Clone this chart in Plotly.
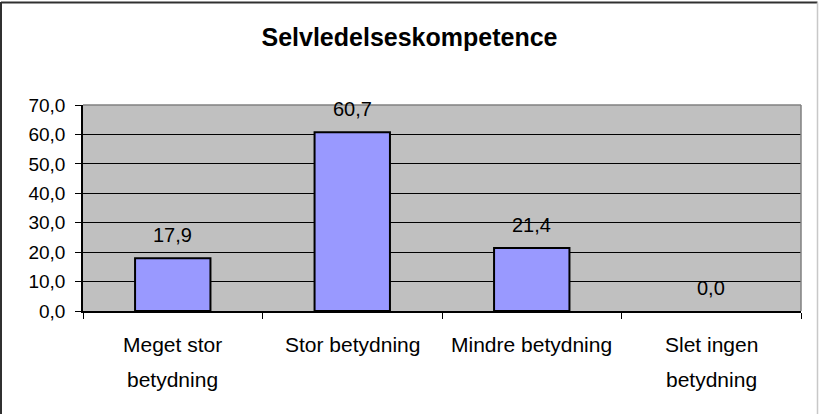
import plotly.graph_objects as go

categories = ["Meget stor<br>betydning", "Stor betydning", "Mindre betydning", "Slet ingen<br>betydning"]
values = [17.9, 60.7, 21.4, 0.0]
title_text = "Selvledelseskompetence"
y_ticks = [0, 10, 20, 30, 40, 50, 60, 70]

FONT = "Arial, Liberation Sans, sans-serif"

# plot area in pixels: x 83..801, y 105..311
L, R, T, B = 83, 18, 105, 103
W, H = 819, 414
pw, ph = W - L - R, H - T - B

def px_to_paper_x(px):
    return (px - L) / pw

def px_to_paper_y(py):
    return (H - B - py) / ph

xs = list(range(len(categories)))

fig = go.Figure()
fig.add_trace(go.Bar(
    x=xs, y=values,
    width=0.42,
    marker=dict(color="#9999FF",
                line=dict(color="black", width=[2 if v > 0 else 0 for v in values])),
    hoverinfo="x+y",
))

annotations = []
# data labels
for x, v in zip(xs, values):
    annotations.append(dict(
        x=x, y=v, xref="x", yref="y",
        text=f"{v:.1f}".replace(".", ","),
        showarrow=False, yanchor="middle", yshift=23,
        font=dict(family=FONT, size=20, color="black"),
    ))
# category labels (Excel-style wide line spacing)
line_centers = [344, 379]
for x, cat in zip(xs, categories):
    for i, line in enumerate(cat.split("<br>")):
        annotations.append(dict(
            x=x, y=px_to_paper_y(line_centers[i]), xref="x", yref="paper",
            text=line, showarrow=False, yanchor="middle",
            font=dict(family=FONT, size=21, color="black"),
        ))

shapes = [
    # plot area border (gray top/right)
    dict(type="line", xref="paper", yref="paper", x0=0, x1=1, y0=1, y1=1,
         line=dict(color="#808080", width=1.5)),
    dict(type="line", xref="paper", yref="paper", x0=1, x1=1, y0=0, y1=1,
         line=dict(color="#808080", width=1.5)),
    # outer chart border
    dict(type="line", xref="paper", yref="paper",
         x0=px_to_paper_x(1), x1=px_to_paper_x(1),
         y0=px_to_paper_y(420), y1=px_to_paper_y(2),
         line=dict(color="#303030", width=2)),
    dict(type="line", xref="paper", yref="paper",
         x0=px_to_paper_x(1), x1=px_to_paper_x(817.5),
         y0=px_to_paper_y(2.5), y1=px_to_paper_y(2.5),
         line=dict(color="#303030", width=2)),
    dict(type="line", xref="paper", yref="paper",
         x0=px_to_paper_x(817.5), x1=px_to_paper_x(817.5),
         y0=px_to_paper_y(420), y1=px_to_paper_y(2.5),
         line=dict(color="#c8c8c8", width=1.5)),
]

fig.update_layout(
    width=W, height=H,
    margin=dict(l=L, r=R, t=T, b=B, autoexpand=False),
    paper_bgcolor="white",
    plot_bgcolor="#C0C0C0",
    separators=",.",
    showlegend=False,
    title=dict(
        text=f"<b>{title_text}</b>", x=0.5, xanchor="center",
        y=1 - 37 / H, yanchor="middle", yref="container",
        font=dict(family=FONT, size=25, color="black"),
    ),
    xaxis=dict(
        range=[-0.5, len(categories) - 0.5],
        tickmode="array", tickvals=[i - 0.5 for i in range(len(categories) + 1)],
        ticktext=[""] * (len(categories) + 1),
        showticklabels=False,
        ticks="outside", ticklen=6, tickcolor="black", tickwidth=1,
        showline=True, linecolor="black", linewidth=1.5,
        showgrid=False, zeroline=False, fixedrange=True,
    ),
    yaxis=dict(
        range=[0, 70],
        tickmode="array", tickvals=y_ticks,
        tickformat=".1f",
        ticks="outside", ticklen=6, tickcolor="black", tickwidth=1,
        ticklabelstandoff=6,
        tickfont=dict(family=FONT, size=19, color="black"),
        showline=True, linecolor="black", linewidth=1.5,
        showgrid=True, gridcolor="black", gridwidth=1,
        zeroline=False, fixedrange=True,
    ),
    annotations=annotations,
    shapes=shapes,
)

fig.write_html(
    "out.html",
    config={"displayModeBar": False},
    post_script="document.body.style.margin='0';document.body.style.overflow='hidden';",
)
